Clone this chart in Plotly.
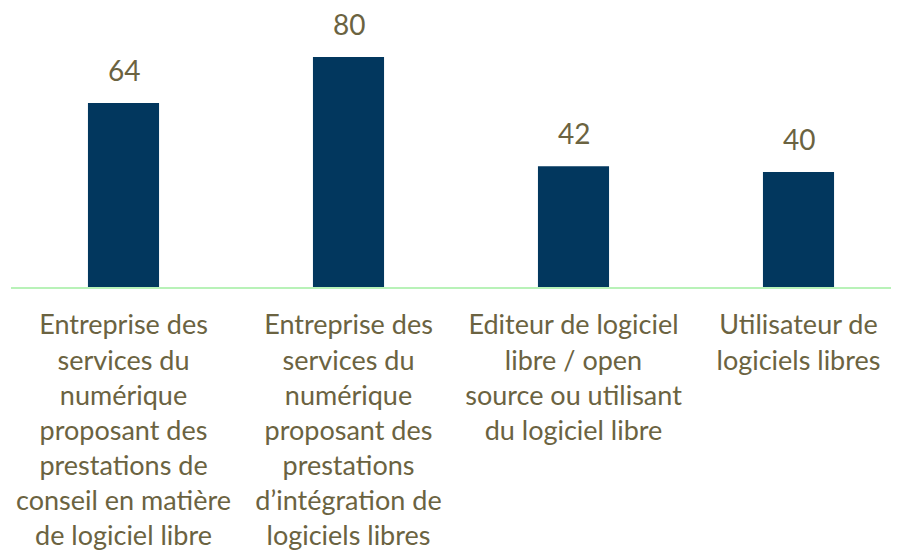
import plotly.graph_objects as go

categories = [
    "Entreprise des<br>services du<br>numérique<br>proposant des<br>prestations de<br>conseil en matière<br>de logiciel libre",
    "Entreprise des<br>services du<br>numérique<br>proposant des<br>prestations<br>d’intégration de<br>logiciels libres",
    "Editeur de logiciel<br>libre / open<br>source ou utilisant<br>du logiciel libre",
    "Utilisateur de<br>logiciels libres",
]
values = [64, 80, 42, 40]

TXT = "#6B6341"
FONT = "Lato"

fig = go.Figure()
fig.add_trace(go.Bar(
    x=list(range(len(categories))), y=values,
    marker=dict(color="#02375E", line=dict(width=0)),
    width=0.316,
    hoverinfo="skip",
))
for i, v in enumerate(values):
    fig.add_annotation(x=i, y=v, text=str(v), showarrow=False, yanchor="bottom",
                       yshift=15, borderpad=0,
                       font=dict(family=FONT, size=28, color=TXT))

fig.update_layout(
    width=899, height=553,
    margin=dict(l=3, r=8, t=0, b=274),
    plot_bgcolor="white", paper_bgcolor="white",
    showlegend=False,
    xaxis=dict(
        tickmode="array", tickvals=list(range(len(categories))), ticktext=categories,
        range=[-0.5, -0.5 + 888 / 225],
        showline=True, linecolor="#B8F2B8", linewidth=2,
        showgrid=False, zeroline=False, ticks="",
        tickfont=dict(family=FONT, size=27, color=TXT),
        tickangle=0, automargin=False, ticklabelstandoff=13,
    ),
    yaxis=dict(range=[0, 279 / 2.875], visible=False, showgrid=False, zeroline=False),
)

fig.write_html("out.html")
